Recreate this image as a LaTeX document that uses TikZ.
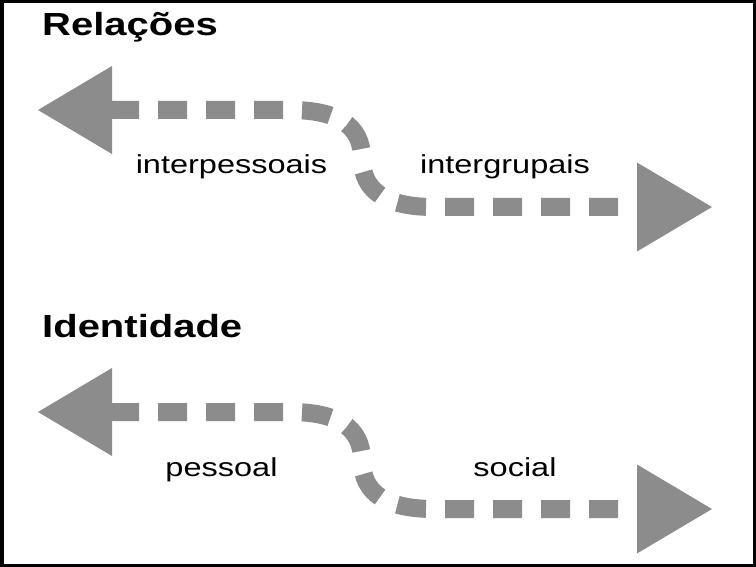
\documentclass[tikz,border=0pt]{standalone}
\usepackage{fontspec}
\setmainfont{Liberation Sans}
\usepackage{graphicx}
\definecolor{arrowgray}{RGB}{140,140,140}
\newcommand\sx[1]{\scalebox{1.25}[1]{#1}}
\tikzset{
  titletext/.style={inner sep=0pt, anchor=base west, font=\fontsize{32}{38}\selectfont\bfseries},
  lbl/.style={inner sep=0pt, anchor=base, font=\fontsize{26}{31}\selectfont},
  dashline/.style={draw=arrowgray, line width=18pt, dash pattern=on 29pt off 19pt},
  dashback/.style={dashline, dash phase=29pt},
  headfill/.style={fill=arrowgray},
  frame/.style={draw=black, line width=3.5pt},
}
\begin{document}
\begin{tikzpicture}[x=1pt,y=-1pt]
\useasboundingbox (0,0) rectangle (756,567);
\fill[white] (0,0) rectangle (756,567);
\draw[frame] (1.75,1.75) rectangle (754.25,565.25);

% titles
\node[titletext] (t1) at (42,36) {\sx{Relações}};
\node[titletext] (t2) at (42,337) {\sx{Identidade}};

% top arrow
\coordinate (rL) at (110,110);
\coordinate (rA) at (290,110);
\coordinate (rM) at (362,158.5);
\coordinate (rB) at (434,207);
\coordinate (rR) at (637,207);
\draw[dashline] (rL) -- (rA) .. controls +(45,0) and +(0,-34.5) .. (rM);
\draw[dashback] (rR) -- (rB) .. controls +(-45,0) and +(0,34.5) .. (rM);
\coordinate (rLtip) at (38,110);
\coordinate (rRtip) at (712,207);
\fill[headfill] (rLtip) -- (112,66) -- (112,154) -- cycle;
\fill[headfill] (rRtip) -- (637,162.5) -- (637,251.5) -- cycle;

% bottom arrow
\coordinate (iL) at (110,412);
\coordinate (iA) at (290,412);
\coordinate (iM) at (362,460.5);
\coordinate (iB) at (434,509);
\coordinate (iR) at (637,509);
\draw[dashline] (iL) -- (iA) .. controls +(45,0) and +(0,-34.5) .. (iM);
\draw[dashback] (iR) -- (iB) .. controls +(-45,0) and +(0,34.5) .. (iM);
\coordinate (iLtip) at (38,412);
\coordinate (iRtip) at (712,509);
\fill[headfill] (iLtip) -- (112,368) -- (112,456) -- cycle;
\fill[headfill] (iRtip) -- (637,464.5) -- (637,553.5) -- cycle;

% labels
\node[lbl] (l1) at (231.5,174) {\sx{interpessoais}};
\node[lbl] (l2) at (505,174) {\sx{intergrupais}};
\node[lbl] (l3) at (221.5,476) {\sx{pessoal}};
\node[lbl] (l4) at (515,476) {\sx{social}};
\end{tikzpicture}
\end{document}
